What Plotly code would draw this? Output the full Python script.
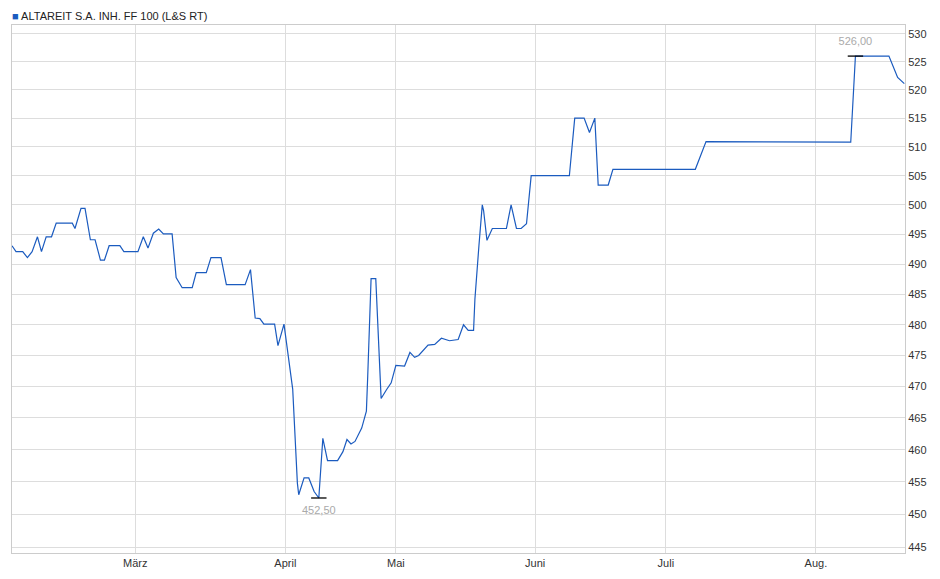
import plotly.graph_objects as go
import math

# trading-day position and closing price
day = [0, 0.6, 1.6, 2.3, 3.0, 3.8, 4.4, 5.1, 5.9, 6.6, 9.0, 9.4, 10.3, 10.9, 11.7, 12.4,
       13.2, 13.8, 14.5, 16.1, 16.7, 18.8, 19.6, 20.3, 21.1, 21.9, 22.6, 23.9, 24.5, 25.4,
       26.9, 27.5, 29.0, 29.7, 31.2, 32.0, 34.8, 35.6, 36.3, 37.0, 37.6, 39.2, 39.7, 40.6,
       41.9, 42.6, 42.8, 43.6, 44.3, 45.1, 45.8, 46.4, 47.1, 48.6, 49.4, 50.0, 50.6, 51.2,
       52.2, 52.9, 53.1, 53.6, 54.3, 55.0, 55.1, 55.9, 56.6, 57.3, 58.6, 59.4, 60.1, 60.7,
       62.1, 63.1, 64.1, 65.3, 66.6, 67.4, 68.1, 68.9, 69.1, 69.7, 70.2, 70.4, 70.9, 71.7,
       73.8, 74.5, 75.3, 76.0, 76.8, 77.5, 83.2, 84.0, 85.4, 86.2, 87.0, 87.5, 89.0, 89.7,
       102.0, 103.6, 125.2, 125.9, 126.5, 130.9, 132.2, 133.2]
price = [493.1, 492.1, 492.1, 491.1, 492.1, 494.6, 492.1, 494.6, 494.6, 496.9, 496.9, 496.0,
         499.4, 499.4, 494.1, 494.1, 490.7, 490.7, 493.1, 493.1, 492.1, 492.1, 494.6, 492.7,
         495.2, 495.9, 495.1, 495.1, 487.8, 486.1, 486.1, 488.6, 488.6, 491.1, 491.1, 486.6,
         486.6, 489.1, 481.1, 481.0, 480.1, 480.1, 476.6, 480.1, 469.6, 454.8, 453.0, 455.6,
         455.6, 453.5, 452.5, 461.8, 458.3, 458.3, 459.7, 461.6, 460.9, 461.3, 463.4, 466.1,
         471.7, 487.6, 487.6, 470.1, 468.1, 469.5, 470.6, 473.4, 473.3, 475.5, 474.7, 475.0,
         476.7, 476.8, 477.8, 477.4, 477.6, 480.0, 479.1, 479.1, 484.2, 493.1, 500.0, 499.0,
         494.0, 496.0, 496.0, 500.0, 496.0, 496.0, 496.8, 505.0, 505.0, 515.0, 515.0, 512.5,
         515.0, 503.4, 503.4, 506.1, 506.1, 510.9, 510.8, 526.0, 526.0, 526.0, 522.2, 521.1]

month_pos = [18.4, 40.8, 57.3, 78.1, 97.6, 120.0]
month_lbl = ["März", "April", "Mai", "Juni", "Juli", "Aug."]
y_ticks = [445, 450, 455, 460, 465, 470, 475, 480, 485, 490, 495, 500, 505, 510, 515, 520, 525, 530]

lo_day, lo_val = 45.8, 452.5
hi_day, hi_val = 125.9, 526.0

font = "Liberation Sans, Arial, sans-serif"
fig = go.Figure()
fig.add_trace(go.Scatter(x=day, y=price, mode="lines", line=dict(color="#1b5bbf", width=1.2),
                         hoverinfo="skip"))
fig.add_trace(go.Scatter(x=[lo_day, hi_day], y=[lo_val, hi_val], mode="markers+text",
                         marker=dict(symbol="line-ew", size=11, line=dict(color="black", width=1.3)),
                         text=["452,50", "526,00"], textposition=["bottom center", "top center"],
                         textfont=dict(color="#aaaaaa", size=11, family=font)))

fig.update_layout(
    width=940, height=579, showlegend=False,
    margin=dict(l=4, r=43, t=17, b=34),
    plot_bgcolor="white", paper_bgcolor="white",
    font=dict(family=font, size=11, color="#333333"),
    annotations=[dict(text="<span style='color:#1b5bbf'>■</span> ALTAREIT S.A. INH. FF 100 (L&S RT)",
                      x=0, y=1, xref="paper", yref="paper", xanchor="left", yanchor="bottom",
                      xshift=-2, yshift=1, showarrow=False, font=dict(size=11, color="#222222"))],
)
fig.update_xaxes(range=[0, 133.3], tickvals=month_pos, ticktext=month_lbl, showgrid=True,
                 gridcolor="#dddddd", zeroline=False, showline=True, linecolor="#cccccc",
                 mirror=True, ticks="", ticklen=0)
fig.update_yaxes(type="log", range=[math.log10(444.1), math.log10(531.6)], tickvals=y_ticks,
                 side="right", showgrid=True, gridcolor="#dddddd", zeroline=False,
                 showline=True, linecolor="#cccccc", mirror=True, ticks="", ticklen=0)

fig.write_html("out.html")
